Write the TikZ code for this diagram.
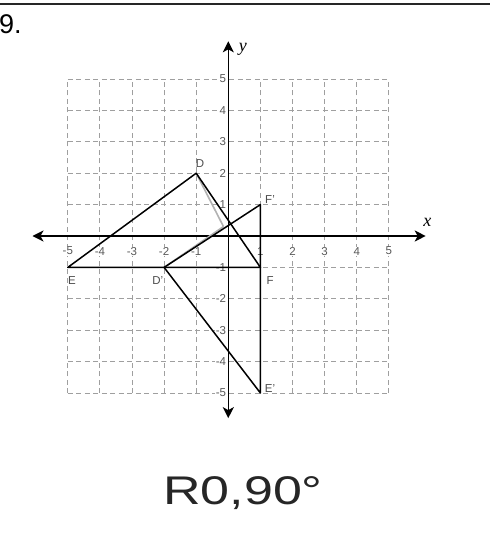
\documentclass[tikz,border=0pt]{standalone}
\usepackage{fontspec}
\setmainfont{Liberation Sans}
\newfontfamily\timesfont{Liberation Serif}
\usetikzlibrary{arrows.meta}
\tikzset{
  gridline/.style={gray!75, line width=0.9pt, dash pattern=on 5pt off 3.5pt},
  axisline/.style={black, line width=1.6pt, {Stealth[length=11pt,width=11pt,inset=3pt]}-{Stealth[length=11pt,width=11pt,inset=3pt]}},
  triline/.style={black, line width=1.5pt, line join=round},
  pencil/.style={gray!60, line width=1.6pt},
  ticklbl/.style={text=black!65, font=\fontsize{11.5}{11.5}\selectfont, inner sep=0.5pt, fill=white},
  ptlbl/.style={text=black!70, font=\fontsize{11.5}{11.5}\selectfont, inner sep=0pt},
  axlbl/.style={font=\timesfont\itshape\fontsize{18}{18}\selectfont, inner sep=0pt}
}
\begin{document}
\begin{tikzpicture}[x=1pt,y=-1pt]
\useasboundingbox (0,0) rectangle (490,540);
\fill[white] (0,0) rectangle (490,540);
% top rule
\draw[black!85, line width=1.6pt] (0,4) -- (490,4);
\node[anchor=west, inner sep=0pt, font=\fontsize{27}{27}\selectfont] (num) at (-1,24) {9.};
\begin{scope}[shift={(228.3pt,-236pt)}, x=32.1pt, y=31.4pt]
  % grid
  \foreach \i in {-5,...,5} {
    \draw[gridline] (\i,-5) -- (\i,5);
    \draw[gridline] (-5,\i) -- (5,\i);
  }
  % tick labels
  \foreach \i in {-5,-4,-3,-2,-1,1,2,3,4,5} {
    \node[ticklbl] at (\i,-0.48) {\ifnum\i<0 -\fi\the\numexpr\ifnum\i<0 -\fi\i\relax};
  }
  \foreach \i in {-5,-4,-3,-2,-1,1,2,3,4,5} {
    \node[ticklbl, anchor=east] at (-0.05,\i) {\ifnum\i<0 -\fi\the\numexpr\ifnum\i<0 -\fi\i\relax};
  }
  % axes
  \coordinate (xl) at (-6.1,0);
  \coordinate (xr) at (6.15,0);
  \coordinate (yt) at (0,6.2);
  \coordinate (yb) at (0,-5.8);
  \draw[axisline] (xl) -- (xr);
  \draw[axisline] (yb) -- (yt);
  \node[axlbl] (xlab) at (6.2,0.45) {x};
  \node[axlbl] (ylab) at (0.45,5.95) {y};
  % points
  \coordinate (D) at (-1,2);
  \coordinate (E) at (-5,-1);
  \coordinate (F) at (1,-1);
  \coordinate (Dp) at (-2,-1);
  \coordinate (Ep) at (1,-5);
  \coordinate (Fp) at (1,1);
  \coordinate (O) at (-0.15,0.3);
  % pencil lines
  \draw[pencil] (D) -- (O);
  \draw[pencil] (Dp) -- (O);
  % triangles
  \draw[triline] (D) -- (E) -- (F) -- cycle;
  \draw[triline] (Dp) -- (Fp) -- (Ep) -- cycle;
  % labels
  \node[ptlbl] (lD) at (-0.88,2.32) {D};
  \node[ptlbl] (lE) at (-4.87,-1.42) {E};
  \node[ptlbl] (lF) at (1.3,-1.42) {F};
  \node[ptlbl] (lDp) at (-2.2,-1.42) {D'};
  \node[ptlbl] (lEp) at (1.3,-4.85) {E'};
  \node[ptlbl] (lFp) at (1.3,1.15) {F'};
\end{scope}
\node[inner sep=0pt, xscale=1.3, text=black!85, font=\fontsize{40}{40}\selectfont] (rot) at (243,493) {R0,90°};
\end{tikzpicture}
\end{document}
